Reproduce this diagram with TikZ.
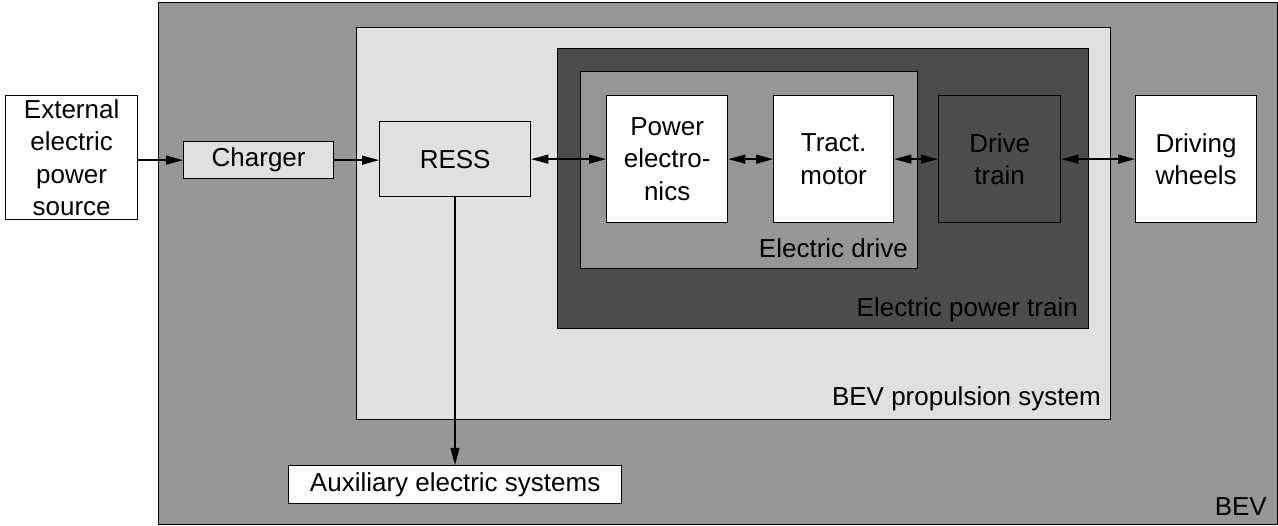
\documentclass[tikz,border=0pt]{standalone}
\usepackage{fontspec}
\setmainfont{Liberation Sans}
\usetikzlibrary{arrows.meta,positioning}
\definecolor{bevgray}{gray}{0.59}
\definecolor{lightg}{gray}{0.88}
\definecolor{darkg}{gray}{0.30}
\tikzset{
  frame/.style={draw=black, line width=1.3pt, anchor=north west, inner sep=0pt},
  box/.style={draw=black, line width=1.3pt, anchor=north west, inner sep=0pt, align=center,
    font=\fontsize{26}{32.5}\selectfont},
  lbl/.style={anchor=base east, font=\fontsize{26}{32.5}\selectfont, inner sep=0pt},
  tip/.tip={Triangle[length=17pt,width=9pt]},
  arr/.style={line width=1.3pt, -tip},
  darr/.style={line width=1.3pt, tip-tip}
}
\begin{document}
\begin{tikzpicture}[x=1pt,y=-1pt]
\useasboundingbox (0,0) rectangle (1278,526);
% BEV
\node[frame, fill=bevgray, minimum width=1119pt, minimum height=522pt] (bev) at (158,2) {};
\node[lbl] (bevl) at (1267,515) {BEV};
% BEV propulsion system
\node[frame, fill=lightg, minimum width=754pt, minimum height=392pt] (prop) at (356,27) {};
\node[lbl] (propl) at (1101,406) {BEV propulsion system};
% Electric power train
\node[frame, fill=darkg, minimum width=531pt, minimum height=280pt] (ept) at (557,48) {};
\node[lbl] (eptl) at (1078,317) {Electric power train};
% Electric drive
\node[frame, fill=bevgray, minimum width=337pt, minimum height=197pt] (ed) at (580,71) {};
\node[lbl] (edl) at (908,258) {Electric drive};
% boxes
\node[box, fill=white, minimum width=132pt, minimum height=124pt] (ext) at (5,95) {External\\electric\\power\\source};
\node[box, fill=lightg, minimum width=150pt, minimum height=37pt] (chg) at (183,141) {Charger};
\node[box, fill=lightg, minimum width=151pt, minimum height=75pt] (ress) at (379,121) {RESS};
\node[box, fill=white, minimum width=121pt, minimum height=127pt] (pe) at (606,95) {Power\\electro-\\nics};
\node[box, fill=white, minimum width=120pt, minimum height=127pt] (tm) at (773,95) {Tract.\\motor};
\node[box, fill=darkg, minimum width=122pt, minimum height=127pt] (dt) at (938,95) {Drive\\train};
\node[box, fill=white, minimum width=121pt, minimum height=127pt] (dw) at (1135,95) {Driving\\wheels};
\node[box, fill=white, minimum width=333pt, minimum height=38pt] (aux) at (288,465) {Auxiliary electric systems};
% connectors
\draw[arr] (ext.east |- chg.west) -- (chg.west);
\draw[arr] (chg.east) -- (chg.east -| ress.west);
\draw[darr] (ress.east |- pe.west) -- (pe.west);
\draw[darr] (pe.east) -- (tm.west);
\draw[darr] (tm.east) -- (dt.west);
\draw[darr] (dt.east) -- (dw.west);
\coordinate (auxin) at (455,465);
\draw[arr] (ress.south -| auxin) -- (auxin);
\end{tikzpicture}
\end{document}
